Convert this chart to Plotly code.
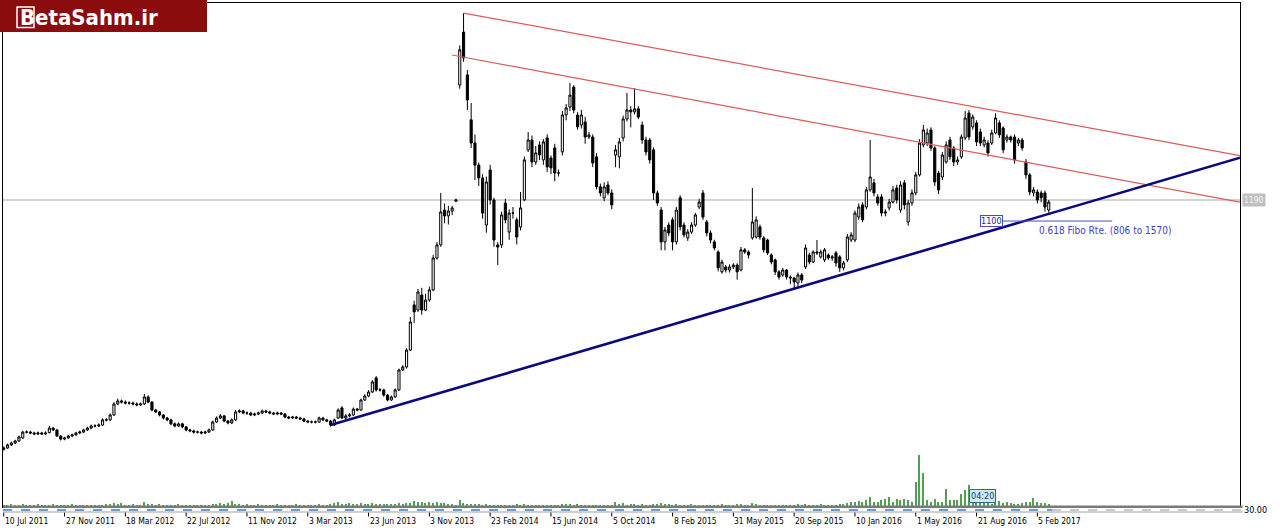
import plotly.graph_objects as go

# ---------------- data (weekly bars, bar index 0 = 10 Jul 2011) ----------------
OPEN = [
    125,131,144,152,161,174,199,199,195,191,
    195,191,197,216,208,182,169,174,182,187,
    195,199,208,216,225,225,229,251,251,272,
    319,332,327,323,323,319,315,319,349,327,
    293,285,272,259,251,234,225,234,221,208,
    204,199,199,195,199,208,242,259,268,246,
    238,251,285,289,280,280,272,276,280,289,
    285,280,276,280,276,263,259,263,259,255,
    246,242,242,242,259,251,246,229,259,302,
    259,268,272,297,293,336,353,370,430,379,
    379,357,336,349,379,464,477,549,742,720,
    784,720,763,806,942,998,1147,1122,1143,1185,
    1681,1907,1724,1532,1433,1339,1284,1083,1318,1190,
    998,998,1177,1053,1134,1105,1075,1190,1404,1446,
    1352,1425,1361,1455,1369,1412,1305,1395,1553,1587,
    1672,1553,1510,1523,1459,1459,1374,1246,1199,1254,
    1220,1382,1374,1455,1536,1574,1566,1579,1510,1446,
    1446,1404,1220,1147,1011,1083,1105,1011,1199,1083,
    1028,1053,1083,1160,1220,1096,1049,1011,968,883,
    904,891,904,912,891,977,968,1028,1032,1075,
    1028,1019,955,934,883,870,891,861,857,836,
    870,904,955,925,968,947,934,955,942,964,
    947,900,934,1019,1019,1117,1169,1160,1233,1263,
    1203,1203,1134,1156,1181,1241,1147,1263,1096,1177,
    1220,1297,1425,1433,1489,1412,1305,1288,1352,1446,
    1412,1352,1374,1455,1561,1502,1519,1480,1425,1433,
    1433,1476,1519,1497,1446,1459,1459,1433,1446,1352,
    1297,1220,1224,1220,1220,1147,
]
HIGH = [
    138,150,158,166,184,204,206,204,200,201,
    200,202,225,220,212,186,179,187,192,200,
    205,213,222,231,232,236,258,258,278,327,
    342,338,334,330,329,326,325,362,356,331,
    298,289,276,264,256,240,240,238,225,213,
    209,205,204,205,214,248,266,276,272,251,
    257,293,296,294,287,285,282,286,295,294,
    290,285,286,285,280,268,268,268,264,260,
    251,248,248,265,264,256,250,256,300,310,
    276,280,304,302,342,360,378,421,438,387,
    384,362,355,385,470,485,557,690,760,810,
    815,790,820,955,1010,1220,1175,1165,1165,1195,
    1850,1988,1745,1604,1470,1350,1300,1290,1340,1200,
    1010,1140,1195,1150,1160,1115,1224,1375,1480,1465,
    1420,1440,1450,1470,1380,1430,1320,1570,1600,1690,
    1680,1565,1575,1545,1480,1470,1390,1260,1265,1270,
    1235,1425,1455,1550,1647,1590,1668,1590,1525,1460,
    1455,1415,1230,1160,1075,1095,1115,1160,1210,1095,
    1065,1095,1135,1195,1233,1105,1060,1020,975,935,
    912,915,920,920,990,985,975,1241,1120,1085,
    1035,1025,962,940,890,900,895,868,862,880,
    878,1000,965,975,1019,978,985,962,956,972,
    955,930,1045,1052,1145,1175,1180,1245,1446,1280,
    1215,1215,1150,1195,1250,1255,1270,1275,1190,1235,
    1310,1450,1510,1495,1500,1420,1315,1395,1440,1460,
    1420,1375,1470,1570,1574,1555,1530,1495,1460,1445,
    1490,1560,1530,1505,1470,1465,1470,1455,1455,1365,
    1305,1245,1235,1230,1230,1190,
]
LOW = [
    120,127,140,148,157,170,193,190,186,186,
    187,186,193,203,178,163,164,170,178,183,
    190,195,203,211,219,220,225,244,247,268,
    314,321,317,316,313,309,310,314,322,288,
    280,266,253,245,228,219,220,215,202,198,
    192,193,189,190,195,204,238,254,241,232,
    233,247,280,275,273,267,267,271,276,280,
    275,271,271,271,258,254,254,254,250,241,
    237,236,236,238,246,241,222,225,255,255,
    250,262,268,288,290,332,348,366,372,372,
    350,330,332,345,375,460,470,545,665,712,
    700,715,755,800,935,990,1090,1085,1125,1180,
    1665,1780,1574,1412,1275,1250,1110,1050,1170,990,
    912,985,1090,1020,1110,1000,1060,1185,1395,1330,
    1340,1360,1340,1310,1300,1270,1290,1380,1530,1570,
    1560,1490,1495,1430,1450,1330,1235,1205,1185,1210,
    1150,1330,1325,1440,1525,1500,1555,1535,1430,1380,
    1345,1190,1165,975,975,1035,975,1000,1060,1030,
    1015,1045,1075,1150,1105,1035,1005,975,885,875,
    880,880,895,850,885,960,940,1020,1025,1020,
    965,955,915,870,850,862,850,830,810,820,
    835,895,915,920,955,940,925,935,930,905,
    883,890,925,1010,1010,1105,1095,1150,1225,1205,
    1165,1120,1120,1145,1175,1175,1135,1150,1080,1165,
    1210,1290,1415,1420,1400,1250,1215,1275,1345,1360,
    1335,1340,1365,1445,1445,1490,1420,1420,1415,1375,
    1425,1470,1455,1390,1435,1435,1345,1420,1400,1280,
    1210,1205,1175,1180,1140,1135,
]
CLOSE = [
    131,144,152,161,178,199,199,195,191,195,
    191,195,216,208,182,169,174,182,187,195,
    199,208,216,225,225,229,251,251,272,319,
    332,327,323,323,319,315,319,349,327,293,
    285,272,259,251,234,225,234,221,208,204,
    199,199,195,199,208,242,259,268,246,238,
    251,285,289,280,280,272,276,280,289,285,
    280,276,280,276,263,259,263,259,255,246,
    242,242,242,259,251,246,229,251,293,259,
    268,272,297,293,336,353,370,413,379,379,
    357,336,349,379,464,477,549,669,712,797,
    720,763,806,942,998,1139,1122,1143,1156,1190,
    1831,1796,1617,1433,1339,1284,1134,1267,1190,1019,
    989,1126,1105,1134,1134,1032,1156,1361,1446,1352,
    1391,1382,1438,1331,1327,1305,1305,1553,1583,1638,
    1574,1502,1553,1459,1468,1348,1246,1220,1246,1220,
    1169,1404,1438,1536,1574,1566,1579,1544,1446,1395,
    1361,1220,1177,1011,1062,1049,1011,1147,1075,1041,
    1053,1083,1126,1181,1117,1049,1019,985,900,925,
    891,904,912,883,977,968,955,1096,1105,1032,
    977,964,925,883,861,891,861,857,840,870,
    848,985,925,968,964,968,977,942,947,921,
    900,921,1032,1041,1134,1160,1105,1233,1288,1220,
    1177,1134,1139,1181,1233,1190,1254,1169,1177,1220,
    1297,1433,1489,1476,1412,1267,1233,1382,1425,1374,
    1352,1361,1459,1540,1459,1544,1438,1433,1446,1391,
    1476,1540,1468,1404,1459,1446,1361,1446,1412,1297,
    1224,1233,1190,1199,1160,1181,
]
VOLUME = [
    1,1,2,1,1,2,1,1,1,2,
    1,1,1,2,1,1,1,1,2,1,
    1,1,1,1,1,1,1,2,2,3,
    2,3,1,1,2,1,1,4,2,2,
    1,2,1,1,1,1,2,1,1,1,
    1,1,1,1,1,2,2,3,2,3,
    5,2,2,1,2,1,1,2,1,1,
    1,1,2,1,1,1,1,2,1,1,
    1,1,1,2,1,1,2,3,4,2,
    2,3,2,2,3,2,2,3,2,2,
    2,2,2,2,3,2,3,3,5,4,
    4,3,4,3,4,3,3,2,2,1,
    6,3,2,2,2,2,1,2,1,1,
    1,1,1,1,1,2,1,2,1,1,
    1,1,1,1,1,1,1,2,2,2,
    1,2,1,1,1,1,1,1,1,1,
    1,4,2,3,1,2,2,1,2,1,
    1,2,2,3,2,2,1,2,1,1,
    1,2,1,1,1,1,1,1,1,2,
    1,1,1,2,2,1,1,3,2,1,
    1,1,1,1,1,1,1,1,1,2,
    1,2,1,1,1,2,1,1,1,1,
    2,2,3,4,4,5,4,6,9,4,
    4,6,7,9,4,7,6,7,6,4,
    24,51,33,6,4,7,4,4,17,6,
    6,6,12,16,21,3,3,3,3,3,
    2,3,5,3,4,3,2,2,3,4,
    4,8,4,3,3,2,
]
TICK_BARS = [0, 16, 32, 48, 64, 80, 96, 112, 128, 144, 160, 176, 192, 208, 224, 240, 256, 272]
TICK_LABELS = ["10 Jul 2011", "27 Nov 2011", "18 Mar 2012", "22 Jul 2012", "11 Nov 2012",
               "3 Mar 2013", "23 Jun 2013", "3 Nov 2013", "23 Feb 2014", "15 Jun 2014",
               "5 Oct 2014", "8 Feb 2015", "31 May 2015", "20 Sep 2015", "10 Jan 2016",
               "1 May 2016", "21 Aug 2016", "5 Feb 2017"]

# drawn objects: (bar index, price) anchor pairs, extended to the right as rays
RESIST_TOP = [(121, 1988), (254, 1592)]
RESIST_MID = [(118, 1809), (250, 1409)]
SUPPORT = [(86, 229), (208, 811)]
H_LEVEL = 1190
FIBO_LEVEL = 1100
FIBO_LOW, FIBO_HIGH = 806, 1570
FIBO_BARS = (257, 262.2, 291.7, 271.9)   # box start, line start, line end, text start
TIMER_BAR = 254
TIMER_TEXT = "04:20"
IND_LEVEL = "30.00"
LOGO = "BetaSahm.ir"

assert len(OPEN) == len(HIGH) == len(LOW) == len(CLOSE) == len(VOLUME), \
    (len(OPEN), len(HIGH), len(LOW), len(CLOSE), len(VOLUME))

# ---------------- layout geometry ----------------
W, H = 1280, 532
ML, MR, MT, MB = 3, 40, 3, 25
PW, PH = W - ML - MR, H - MT - MB
BAR_PX = 3.8
X0 = -0.2
X1 = X0 + PW / BAR_PX
Y0, Y1 = -121, 2031
FONT = "DejaVu Sans Condensed, DejaVu Sans, sans-serif"


def px_x(px):
    return (px - ML) / PW


def px_y(py):
    return (H - MB - py) / PH


bars = list(range(len(CLOSE)))

fig = go.Figure()
fig.add_trace(go.Bar(
    x=bars, y=VOLUME, yaxis="y2", width=0.3,
    marker=dict(color="#52a052", line=dict(width=0)), hoverinfo="skip",
))
fig.add_trace(go.Candlestick(
    x=bars, open=OPEN, high=HIGH, low=LOW, close=CLOSE,
    increasing=dict(line=dict(color="#000000", width=1), fillcolor="#ffffff"),
    decreasing=dict(line=dict(color="#000000", width=1), fillcolor="#000000"),
    whiskerwidth=0,
))

shapes = []
# horizontal level line
shapes.append(dict(type="line", xref="paper", yref="y", x0=0, x1=1, y0=H_LEVEL, y1=H_LEVEL,
                   line=dict(color="#c4c4c4", width=1.5), layer="below"))


def ray(anchor, color, width):
    (xa, ya), (xb, yb) = anchor
    slope = (yb - ya) / (xb - xa)
    return dict(type="line", xref="x", yref="y", x0=xa, y0=ya, x1=X1, y1=ya + slope * (X1 - xa),
                line=dict(color=color, width=width), layer="above")


shapes.append(ray(RESIST_TOP, "#e05a5a", 1.2))
shapes.append(ray(RESIST_MID, "#e05a5a", 1.2))
shapes.append(ray(SUPPORT, "#0a0a80", 2.6))
# fibo level line
shapes.append(dict(type="line", xref="x", yref="y", x0=FIBO_BARS[1], x1=FIBO_BARS[2],
                   y0=FIBO_LEVEL, y1=FIBO_LEVEL, line=dict(color="#4a4ad0", width=1)))
# tick marks below the indicator strip
for b in TICK_BARS:
    shapes.append(dict(type="line", xref="x", yref="paper", x0=b, x1=b,
                       y0=px_y(512.5), y1=px_y(516.5), line=dict(color="#000000", width=1)))
# bottom separator and indicator strip
shapes.append(dict(type="rect", xref="paper", yref="paper", x0=0, x1=1.002,
                   y0=px_y(508), y1=px_y(505.5), fillcolor="#7a7a7a", line=dict(width=0)))
shapes.append(dict(type="line", xref="paper", yref="paper", x0=0, x1=px_x(1052),
                   y0=px_y(510), y1=px_y(510), line=dict(color="#6f9cc8", width=2, dash="dash")))
shapes.append(dict(type="line", xref="paper", yref="paper", x0=px_x(1052), x1=1.002,
                   y0=px_y(510), y1=px_y(510), line=dict(color="#c9c9c9", width=2, dash="dash")))
shapes.append(dict(type="line", xref="paper", yref="paper", x0=0, x1=1.002,
                   y0=px_y(512), y1=px_y(512), line=dict(color="#a0a0a0", width=1)))
# logo block
shapes.append(dict(type="rect", xref="paper", yref="paper", x0=px_x(0), x1=px_x(207),
                   y0=px_y(32), y1=px_y(0), fillcolor="#8a0c0c", line=dict(width=0), layer="above"))
shapes.append(dict(type="rect", xref="paper", yref="paper", x0=px_x(17), x1=px_x(34),
                   y0=px_y(27.5), y1=px_y(7), fillcolor="rgba(0,0,0,0)",
                   line=dict(color="#ffffff", width=1.5), layer="above"))

annotations = []
for b, lab in zip(TICK_BARS, TICK_LABELS):
    annotations.append(dict(x=b, xref="x", y=px_y(514), yref="paper", text=lab, showarrow=False,
                            xanchor="left", yanchor="top", xshift=-1,
                            font=dict(family=FONT, size=8.5, color="#000000")))
annotations.append(dict(x=px_x(1242), xref="paper", y=H_LEVEL, yref="y", text=str(H_LEVEL),
                        showarrow=False, xanchor="left", yanchor="middle", bgcolor="#c0c0c0",
                        borderpad=1, font=dict(family=FONT, size=8.5, color="#f4f4f4")))
annotations.append(dict(x=px_x(1242), xref="paper", y=px_y(509.5), yref="paper", text=IND_LEVEL,
                        showarrow=False, xanchor="left", yanchor="middle",
                        font=dict(family=FONT, size=9, color="#000000")))
annotations.append(dict(x=FIBO_BARS[0], xref="x", y=FIBO_LEVEL, yref="y", text=str(FIBO_LEVEL),
                        showarrow=False, xanchor="left", yanchor="middle", bgcolor="#ffffff",
                        bordercolor="#4a4ad0", borderwidth=1, borderpad=0,
                        font=dict(family=FONT, size=9, color="#2a2a90")))
annotations.append(dict(x=FIBO_BARS[3], xref="x", y=FIBO_LEVEL, yref="y",
                        text=f"0.618 Fibo Rte. ({FIBO_LOW} to {FIBO_HIGH})",
                        showarrow=False, xanchor="left", yanchor="top", yshift=-2,
                        font=dict(family=FONT, size=10, color="#4242c0")))
annotations.append(dict(x=TIMER_BAR, xref="x", y=px_y(496), yref="paper", text=TIMER_TEXT,
                        showarrow=False, xanchor="left", yanchor="middle", bgcolor="#cdeaf2",
                        bordercolor="#2a6f8a", borderwidth=1, borderpad=1,
                        font=dict(family=FONT, size=9, color="#1a3a6a")))
annotations.append(dict(x=px_x(18), xref="paper", y=px_y(17.5), yref="paper", text=LOGO,
                        showarrow=False, xanchor="left", yanchor="middle",
                        font=dict(family=FONT, size=22, color="#ffffff", weight="bold")))

fig.update_layout(
    width=W, height=H, margin=dict(l=ML, r=MR, t=MT, b=MB),
    paper_bgcolor="#ffffff", plot_bgcolor="#ffffff", showlegend=False,
    shapes=shapes, annotations=annotations, bargap=0, boxgap=0.2,
    xaxis=dict(range=[X0, X1], showgrid=False, zeroline=False, showticklabels=False, ticks="",
               showline=True, mirror=True, linecolor="#000000", linewidth=1,
               rangeslider=dict(visible=False), fixedrange=True),
    yaxis=dict(range=[Y0, Y1], showgrid=False, zeroline=False, showticklabels=False, ticks="",
               showline=True, mirror=True, linecolor="#000000", linewidth=1, fixedrange=True),
    yaxis2=dict(range=[-1, PH - 1], overlaying="y", showgrid=False, zeroline=False,
                showticklabels=False, visible=False, fixedrange=True),
    font=dict(family=FONT),
)

fig.write_html(
    "out.html",
    config={"displayModeBar": False},
    post_script="document.body.style.margin='0';document.body.style.overflow='hidden';",
)
